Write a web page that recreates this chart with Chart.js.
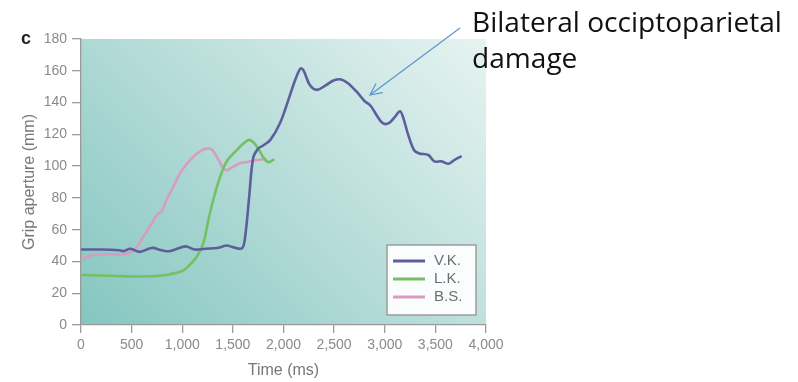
<!DOCTYPE html>
<html><head><meta charset="utf-8">
<script src="https://cdn.jsdelivr.net/npm/chart.js@4.4.1/dist/chart.umd.min.js"></script>
<style>html,body{margin:0;padding:0;background:#fff;overflow:hidden}</style>
</head><body>
<canvas id="c" width="798" height="382" style="display:block;width:798px;height:382px"></canvas>
<script>
// ---- data ----
const seriesNames = ['V.K.', 'L.K.', 'B.S.'];

const vkTime = [0, 200, 380, 420, 490, 580, 700, 800, 880, 1030, 1120, 1230, 1350, 1440, 1500, 1590, 1620, 1660, 1700, 1750, 1800, 1870, 1965, 2050, 2120, 2170, 2200, 2260, 2330, 2420, 2500, 2570, 2640, 2720, 2800, 2860, 2920, 2980, 3040, 3100, 3150, 3180, 3230, 3290, 3340, 3430, 3490, 3560, 3630, 3690, 3750];
const vkAperture = [47.5, 47.5, 47, 46.5, 48, 46, 48.5, 47, 46.5, 49.5, 47.5, 48, 48.5, 50, 49, 48.3, 55, 80, 105, 111, 113, 116.5, 127, 142, 155, 161.5, 160, 151, 148, 151, 154, 154.5, 152, 147, 141, 138, 132, 127, 127, 131, 134.5, 131, 120, 110, 108, 107, 103, 103, 101.5, 104, 106];

const lkTime = [0, 300, 600, 780, 880, 1000, 1060, 1143, 1208, 1258, 1307, 1373, 1439, 1538, 1600, 1662, 1710, 1760, 1801, 1850, 1900];
const lkAperture = [31.5, 31, 30.5, 31, 32, 34, 37, 43, 51.4, 66, 79, 93, 103, 110, 114, 116.5, 114.5, 110, 105.5, 102.5, 104];

const bsTime = [0, 120, 300, 420, 500, 540, 616, 700, 747, 800, 846, 920, 978, 1040, 1110, 1180, 1241, 1290, 1340, 1406, 1440, 1500, 1570, 1640, 1702, 1760, 1817];
const bsAperture = [41, 44, 44.5, 44.5, 46, 48, 55.6, 64, 69, 72, 79, 88, 95.5, 101, 106, 109.5, 111, 110.5, 106, 98.5, 97.5, 99.5, 101.8, 102.5, 103.5, 104, 104.5];

const xTickValues = [0, 500, 1000, 1500, 2000, 2500, 3000, 3500, 4000];
const yTickValues = [0, 20, 40, 60, 80, 100, 120, 140, 160, 180];

const annotationLines = ['Bilateral occiptoparietal', 'damage'];
const panelLetter = 'c';

// ---- build ----
const seriesColors = ['#5d5f9c', '#74c164', '#d99cc0'];
function pts(ts, vs) { return ts.map((t, i) => ({ x: t, y: vs[i] })); }
const seriesData = [pts(vkTime, vkAperture), pts(lkTime, lkAperture), pts(bsTime, bsAperture)];

const tickFont = { family: '"Liberation Sans", Arial, sans-serif', size: 14 };
const titleFont = { family: '"Liberation Sans", Arial, sans-serif', size: 16 };
const grey = '#8a8a8a';

const bgPlugin = {
  id: 'bg',
  beforeDraw(chart) {
    const { ctx, chartArea: a } = chart;
    const g = ctx.createLinearGradient(a.left, a.bottom, a.right, a.top - 120);
    g.addColorStop(0, '#85c6c0');
    g.addColorStop(0.4, '#b3dbd7');
    g.addColorStop(0.75, '#dbeeeb');
    g.addColorStop(1, '#f6fbfa');
    ctx.save();
    ctx.fillStyle = g;
    ctx.fillRect(a.left, a.top, a.right - a.left, a.bottom - a.top);
    ctx.restore();
  }
};

const overlayPlugin = {
  id: 'overlay',
  afterDraw(chart) {
    const ctx = chart.ctx;
    ctx.save();
    // legend box
    const bx = 387, by = 245, bw = 89, bh = 70;
    ctx.fillStyle = 'rgba(255,255,255,0.92)';
    ctx.fillRect(bx, by, bw, bh);
    ctx.strokeStyle = '#9c9c9c';
    ctx.lineWidth = 1.5;
    ctx.strokeRect(bx, by, bw, bh);
    const rowY = [261, 279, 297];
    chart.data.datasets.forEach((ds, i) => {
      ctx.strokeStyle = ds.borderColor;
      ctx.lineWidth = 3;
      ctx.beginPath();
      ctx.moveTo(393, rowY[i]);
      ctx.lineTo(425, rowY[i]);
      ctx.stroke();
      ctx.fillStyle = '#6e6e6e';
      ctx.font = '15px "Liberation Sans", Arial, sans-serif';
      ctx.textBaseline = 'middle';
      ctx.textAlign = 'left';
      ctx.fillText(ds.label, 434, rowY[i]);
    });
    // panel letter
    ctx.fillStyle = '#222';
    ctx.font = 'bold 18px "Liberation Sans", Arial, sans-serif';
    ctx.textBaseline = 'alphabetic';
    ctx.fillText(panelLetter, 21, 44);
    // arrow
    const x1 = 460, y1 = 28, x2 = 370, y2 = 95;
    ctx.strokeStyle = '#5b94cf';
    ctx.lineWidth = 1.2;
    ctx.beginPath();
    ctx.moveTo(x1, y1); ctx.lineTo(x2, y2); ctx.stroke();
    const ang = Math.atan2(y2 - y1, x2 - x1);
    const hl = 13;
    ctx.beginPath();
    ctx.moveTo(x2 - hl * Math.cos(ang - 0.45), y2 - hl * Math.sin(ang - 0.45));
    ctx.lineTo(x2, y2);
    ctx.lineTo(x2 - hl * Math.cos(ang + 0.45), y2 - hl * Math.sin(ang + 0.45));
    ctx.stroke();
    // annotation text
    ctx.fillStyle = '#111';
    let fs = 26;
    ctx.font = fs + 'px "Open Sans", "Noto Sans", sans-serif';
    const w = ctx.measureText(annotationLines[0]).width;
    fs = fs * 310 / w;
    ctx.font = fs.toFixed(2) + 'px "Open Sans", "Noto Sans", sans-serif';
    ctx.textAlign = 'left';
    ctx.fillText(annotationLines[0], 472, 32);
    ctx.fillText(annotationLines[1], 472, 68);
    ctx.restore();
  }
};

new Chart(document.getElementById('c'), {
  type: 'line',
  data: {
    datasets: seriesNames.map((n, i) => ({
      label: n,
      data: seriesData[i],
      borderColor: seriesColors[i],
      backgroundColor: seriesColors[i],
      borderWidth: 2.6,
      pointRadius: 0,
      tension: 0.35,
      fill: false,
      borderCapStyle: 'round',
      borderJoinStyle: 'round'
    }))
  },
  options: {
    responsive: false,
    animation: false,
    devicePixelRatio: 1,
    layout: { padding: { left: 0, right: 312, top: 39, bottom: 0 } },
    plugins: { legend: { display: false }, tooltip: { enabled: false } },
    scales: {
      x: {
        type: 'linear',
        min: 0, max: 4000,
        afterFit(s) { s.height = 57; },
        afterBuildTicks(s) { s.ticks = xTickValues.map(v => ({ value: v })); },
        grid: { display: true, drawOnChartArea: false, drawTicks: true, tickLength: 8, color: '#9a9a9a', lineWidth: 1.3 },
        border: { display: true, color: '#9a9a9a', width: 1.3 },
        ticks: { color: grey, font: tickFont, padding: 4, maxRotation: 0 },
        title: { display: true, text: 'Time (ms)', color: '#777', font: titleFont, padding: { top: 0, bottom: 2 } }
      },
      y: {
        min: 0, max: 180,
        afterFit(s) { s.width = 81; },
        afterBuildTicks(s) { s.ticks = yTickValues.map(v => ({ value: v })); },
        grid: { display: true, drawOnChartArea: false, drawTicks: true, tickLength: 9, color: '#9a9a9a', lineWidth: 1.3 },
        border: { display: true, color: '#9a9a9a', width: 1.3 },
        ticks: { color: grey, font: tickFont, padding: 5 },
        title: { display: true, text: 'Grip aperture (mm)', color: '#777', font: titleFont, padding: { top: 20, bottom: 0 } }
      }
    }
  },
  plugins: [bgPlugin, overlayPlugin]
});
</script>
</body></html>
